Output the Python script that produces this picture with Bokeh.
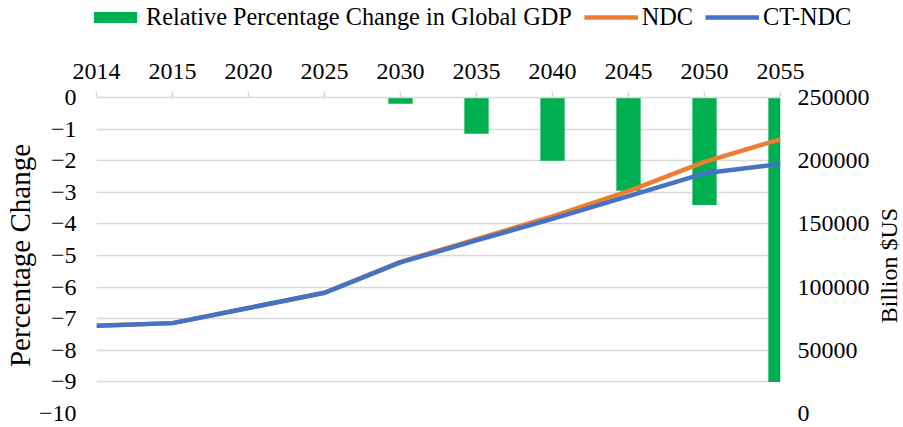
from bokeh.plotting import figure
from bokeh.layouts import row, column
from bokeh.models import (Range1d, LinearAxis, FixedTicker, Legend, LegendItem,
                          ColumnDataSource, BasicTickFormatter, Label)
from bokeh.embed import file_html
from bokeh.resources import INLINE

years = ["2014", "2015", "2020", "2025", "2030", "2035", "2040", "2045", "2050", "2055"]
pct_change = [0, 0, 0, 0, -0.2, -1.15, -2.0, -2.95, -3.4, -9.0]
ndc = [69500, 71500, 83500, 95500, 120000, 138000, 156000, 176000, 199000, 217000]
ct_ndc = [69500, 71500, 83500, 95500, 119500, 137000, 154000, 172000, 190000, 197500]
left_ticks = [-10, -9, -8, -7, -6, -5, -4, -3, -2, -1, 0]
right_ticks = [0, 50000, 100000, 150000, 200000, 250000]
series_names = ["Relative Percentage Change in Global GDP", "NDC", "CT-NDC"]
left_title = "Percentage Change"
right_title = "Billion $US"

FONT = "Liberation Serif"
GRID = "#d9d9d9"
GREEN, ORANGE, BLUE = "#00B050", "#ED7D31", "#4472C4"

W, H = 903, 427
LEG_H = 40          # legend strip height
RIGHT_W = 30        # right title strip width
TOP, BOTTOM = 97 - LEG_H, 14

x = list(range(len(years)))
src = ColumnDataSource(dict(x=x, pct=pct_change, ndc=ndc, ct=ct_ndc))

# ---------------- main chart ----------------
p = figure(width=W - RIGHT_W, height=H - LEG_H, output_backend="svg",
           toolbar_location=None,
           x_range=Range1d(0, len(years) - 1), y_range=Range1d(-10, 0),
           x_axis_location="above",
           min_border_left=96, min_border_right=123 - RIGHT_W,
           min_border_top=TOP, min_border_bottom=BOTTOM)
p.outline_line_color = None

xa = p.xaxis[0]
xa.ticker = FixedTicker(ticks=x)
xa.major_label_overrides = {i: y for i, y in enumerate(years)}
xa.axis_line_color = GRID
xa.axis_line_width = 1.5
xa.major_tick_line_color = GRID
xa.major_tick_line_width = 1.5
xa.major_tick_out = 6
xa.major_tick_in = 0
xa.minor_tick_line_color = None
xa.major_label_text_font = FONT
xa.major_label_text_font_size = "24px"
xa.major_label_text_color = "black"
xa.major_label_standoff = 13
p.xgrid.grid_line_color = None

ya = p.yaxis[0]
ya.ticker = FixedTicker(ticks=left_ticks)
ya.axis_line_color = None
ya.major_tick_line_color = None
ya.major_tick_out = 0
ya.major_tick_in = 0
ya.minor_tick_line_color = None
ya.major_label_text_font = FONT
ya.major_label_text_font_size = "24px"
ya.major_label_text_color = "black"
ya.major_label_standoff = 20
ya.axis_label = left_title
ya.axis_label_text_font = FONT
ya.axis_label_text_font_size = "29px"
ya.axis_label_text_font_style = "normal"
ya.axis_label_text_color = "black"
ya.axis_label_standoff = 0
p.ygrid.grid_line_color = GRID
p.ygrid.grid_line_width = 1.5

p.extra_y_ranges = {"gdp": Range1d(0, 250000)}
ra = LinearAxis(y_range_name="gdp", ticker=FixedTicker(ticks=right_ticks),
                formatter=BasicTickFormatter(use_scientific=False))
ra.axis_line_color = None
ra.major_tick_line_color = None
ra.major_tick_out = 0
ra.major_tick_in = 0
ra.minor_tick_line_color = None
ra.major_label_text_font = FONT
ra.major_label_text_font_size = "24px"
ra.major_label_text_color = "black"
ra.major_label_standoff = 17
p.add_layout(ra, "right")

bar_style = dict(fill_color=GREEN, line_color=None)
ndc_style = dict(line_color=ORANGE, line_width=4.5, line_join="round")
ct_style = dict(line_color=BLUE, line_width=4.5, line_join="round")

p.vbar(x="x", top=0, bottom="pct", width=0.32, source=src, **bar_style)
p.line("x", "ndc", source=src, y_range_name="gdp", **ndc_style)
p.line("x", "ct", source=src, y_range_name="gdp", **ct_style)

# ---------------- right axis-title strip ----------------
frame_h = H - LEG_H - TOP - BOTTOM
rt = figure(width=RIGHT_W, height=H - LEG_H, output_backend="svg",
            toolbar_location=None,
            x_range=Range1d(0, RIGHT_W), y_range=Range1d(0, frame_h),
            x_axis_location=None, y_axis_location=None,
            min_border_left=0, min_border_right=0,
            min_border_top=TOP, min_border_bottom=BOTTOM)
rt.outline_line_color = None
rt.grid.grid_line_color = None
rt.add_layout(Label(x=RIGHT_W / 2, y=H - BOTTOM - 265, text=right_title, angle=90,
                    angle_units="deg", text_align="center",
                    text_baseline="middle", text_font=FONT,
                    text_font_size="24px", text_color="black"))

# ---------------- legend strip ----------------
# same series drawn with the same styles, but outside this strip's visible range,
# so only their legend swatches show
lg = figure(width=W, height=LEG_H, output_backend="svg", toolbar_location=None,
            x_range=Range1d(0, 1), y_range=Range1d(1e6, 1e6 + 1),
            x_axis_location=None, y_axis_location=None,
            min_border_left=0, min_border_right=0, min_border_top=0,
            min_border_bottom=0)
lg.outline_line_color = None
lg.grid.grid_line_color = None
r_bar = lg.vbar(x="x", top=0, bottom="pct", width=0.32, source=src, **bar_style)
r_ndc = lg.line("x", "ndc", source=src, **ndc_style)
r_ct = lg.line("x", "ct", source=src, **ct_style)

legend = Legend(items=[
    LegendItem(label=series_names[0], renderers=[r_bar]),
    LegendItem(label=series_names[1], renderers=[r_ndc]),
    LegendItem(label=series_names[2], renderers=[r_ct]),
], location=(88, 9), orientation="horizontal")
legend.label_text_font = FONT
legend.label_text_font_size = "24.3px"
legend.label_text_color = "black"
legend.glyph_width = 54
legend.glyph_height = 14
legend.label_standoff = 4
legend.spacing = 12
legend.padding = 0
legend.margin = 0
legend.border_line_color = None
legend.background_fill_alpha = 0
lg.add_layout(legend)

layout = column(lg, row(p, rt, spacing=0), spacing=0)
open("out.html", "w").write(file_html(layout, INLINE))
